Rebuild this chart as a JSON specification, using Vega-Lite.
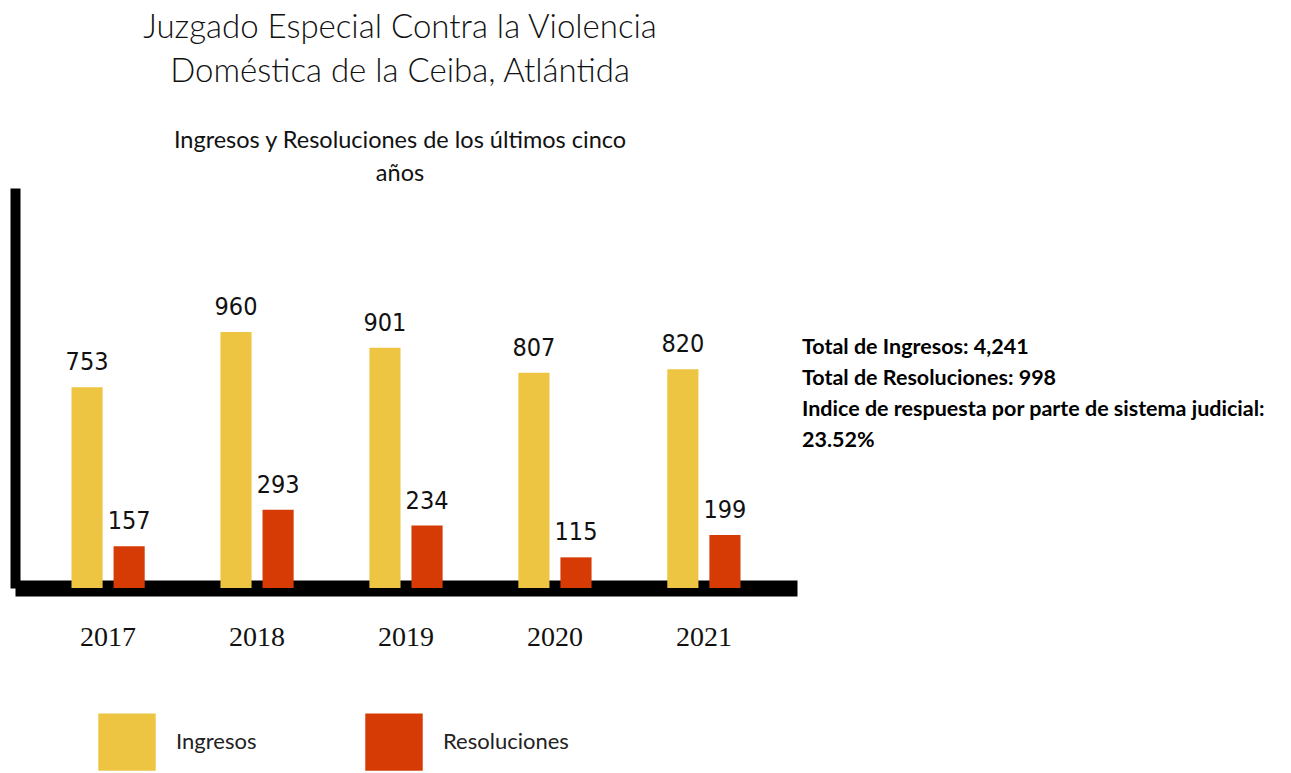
{
  "$schema": "https://vega.github.io/schema/vega-lite/v6.json",
  "background": "white",
  "padding": {"left": 15, "top": 11, "right": 0, "bottom": 0},
  "spacing": 5,
  "config": {"view": {"stroke": null}},
  "title": {
    "text": ["Juzgado Especial Contra la Violencia", "Doméstica de la Ceiba, Atlántida"],
    "subtitle": ["Ingresos y Resoluciones de los últimos cinco", "años"],
    "anchor": "start",
    "align": "center",
    "dx": 385,
    "font": "Lato",
    "fontWeight": 300,
    "fontSize": 33,
    "lineHeight": 44,
    "color": "#111111",
    "subtitleFont": "Lato",
    "subtitleFontWeight": 400,
    "subtitleFontSize": 23.5,
    "subtitleLineHeight": 33,
    "subtitleColor": "#111111",
    "subtitlePadding": 40,
    "offset": 3
  },
  "hconcat": [
    {
      "width": 782,
      "height": 400,
      "data": {
        "values": [
          {"anio": "2017", "serie": "Ingresos", "valor": 753},
          {"anio": "2017", "serie": "Resoluciones", "valor": 157},
          {"anio": "2018", "serie": "Ingresos", "valor": 960},
          {"anio": "2018", "serie": "Resoluciones", "valor": 293},
          {"anio": "2019", "serie": "Ingresos", "valor": 901},
          {"anio": "2019", "serie": "Resoluciones", "valor": 234},
          {"anio": "2020", "serie": "Ingresos", "valor": 807},
          {"anio": "2020", "serie": "Resoluciones", "valor": 115},
          {"anio": "2021", "serie": "Ingresos", "valor": 820},
          {"anio": "2021", "serie": "Resoluciones", "valor": 199}
        ]
      },
      "encoding": {
        "x": {
          "field": "anio",
          "type": "nominal",
          "scale": {"paddingInner": 0, "paddingOuter": 0.125},
          "axis": {
            "title": null,
            "labelAngle": 0,
            "ticks": false,
            "grid": false,
            "domainColor": "#000000",
            "domainWidth": 16,
            "labelFont": "Liberation Serif",
            "labelFontSize": 28,
            "labelColor": "#111111",
            "labelPadding": 35
          }
        },
        "xOffset": {
          "field": "serie",
          "type": "nominal",
          "sort": ["Ingresos", "Resoluciones"],
          "scale": {"paddingInner": 0.26, "paddingOuter": 0.9}
        },
        "y": {
          "field": "valor",
          "type": "quantitative",
          "scale": {"domain": [0, 1500], "nice": false},
          "axis": {
            "title": null,
            "labels": false,
            "ticks": false,
            "grid": false,
            "domainColor": "#000000",
            "domainWidth": 10
          }
        }
      },
      "layer": [
        {
          "mark": {"type": "bar"},
          "encoding": {
            "color": {
              "field": "serie",
              "type": "nominal",
              "sort": ["Ingresos", "Resoluciones"],
              "scale": {"domain": ["Ingresos", "Resoluciones"], "range": ["#EEC543", "#D63B05"]},
              "legend": {
                "title": null,
                "orient": "none",
                "legendX": 83,
                "legendY": 525,
                "direction": "horizontal",
                "symbolType": "square",
                "symbolSize": 3300,
                "symbolStrokeWidth": 0,
                "symbolOpacity": 1,
                "labelFont": "Lato",
                "labelFontSize": 22,
                "labelColor": "#222222",
                "labelOffset": 20,
                "columnPadding": 108
              }
            }
          }
        },
        {
          "mark": {
            "type": "text",
            "baseline": "bottom",
            "dy": -12,
            "font": "Liberation Sans Narrow, DejaVu Sans Condensed, sans-serif",
            "fontSize": 25,
            "color": "#111111"
          },
          "encoding": {
            "text": {"field": "valor", "type": "quantitative"}
          }
        }
      ]
    },
    {
      "width": 480,
      "height": 400,
      "data": {
        "values": [
          {"linea": 1, "texto": "Total de Ingresos: 4,241"},
          {"linea": 2, "texto": "Total de Resoluciones: 998"},
          {"linea": 3, "texto": "Indice de respuesta por parte de sistema judicial:"},
          {"linea": 4, "texto": "23.52%"}
        ]
      },
      "mark": {
        "type": "text",
        "align": "left",
        "baseline": "middle",
        "font": "Lato",
        "fontWeight": "bold",
        "fontSize": 21.5,
        "color": "#000000"
      },
      "encoding": {
        "x": {"datum": 0, "type": "quantitative", "scale": {"domain": [0, 1]}, "axis": null},
        "y": {
          "field": "linea",
          "type": "quantitative",
          "scale": {"domain": [-4.15, 8.75], "reverse": true, "nice": false, "zero": false},
          "axis": null
        },
        "text": {"field": "texto"}
      }
    }
  ]
}
